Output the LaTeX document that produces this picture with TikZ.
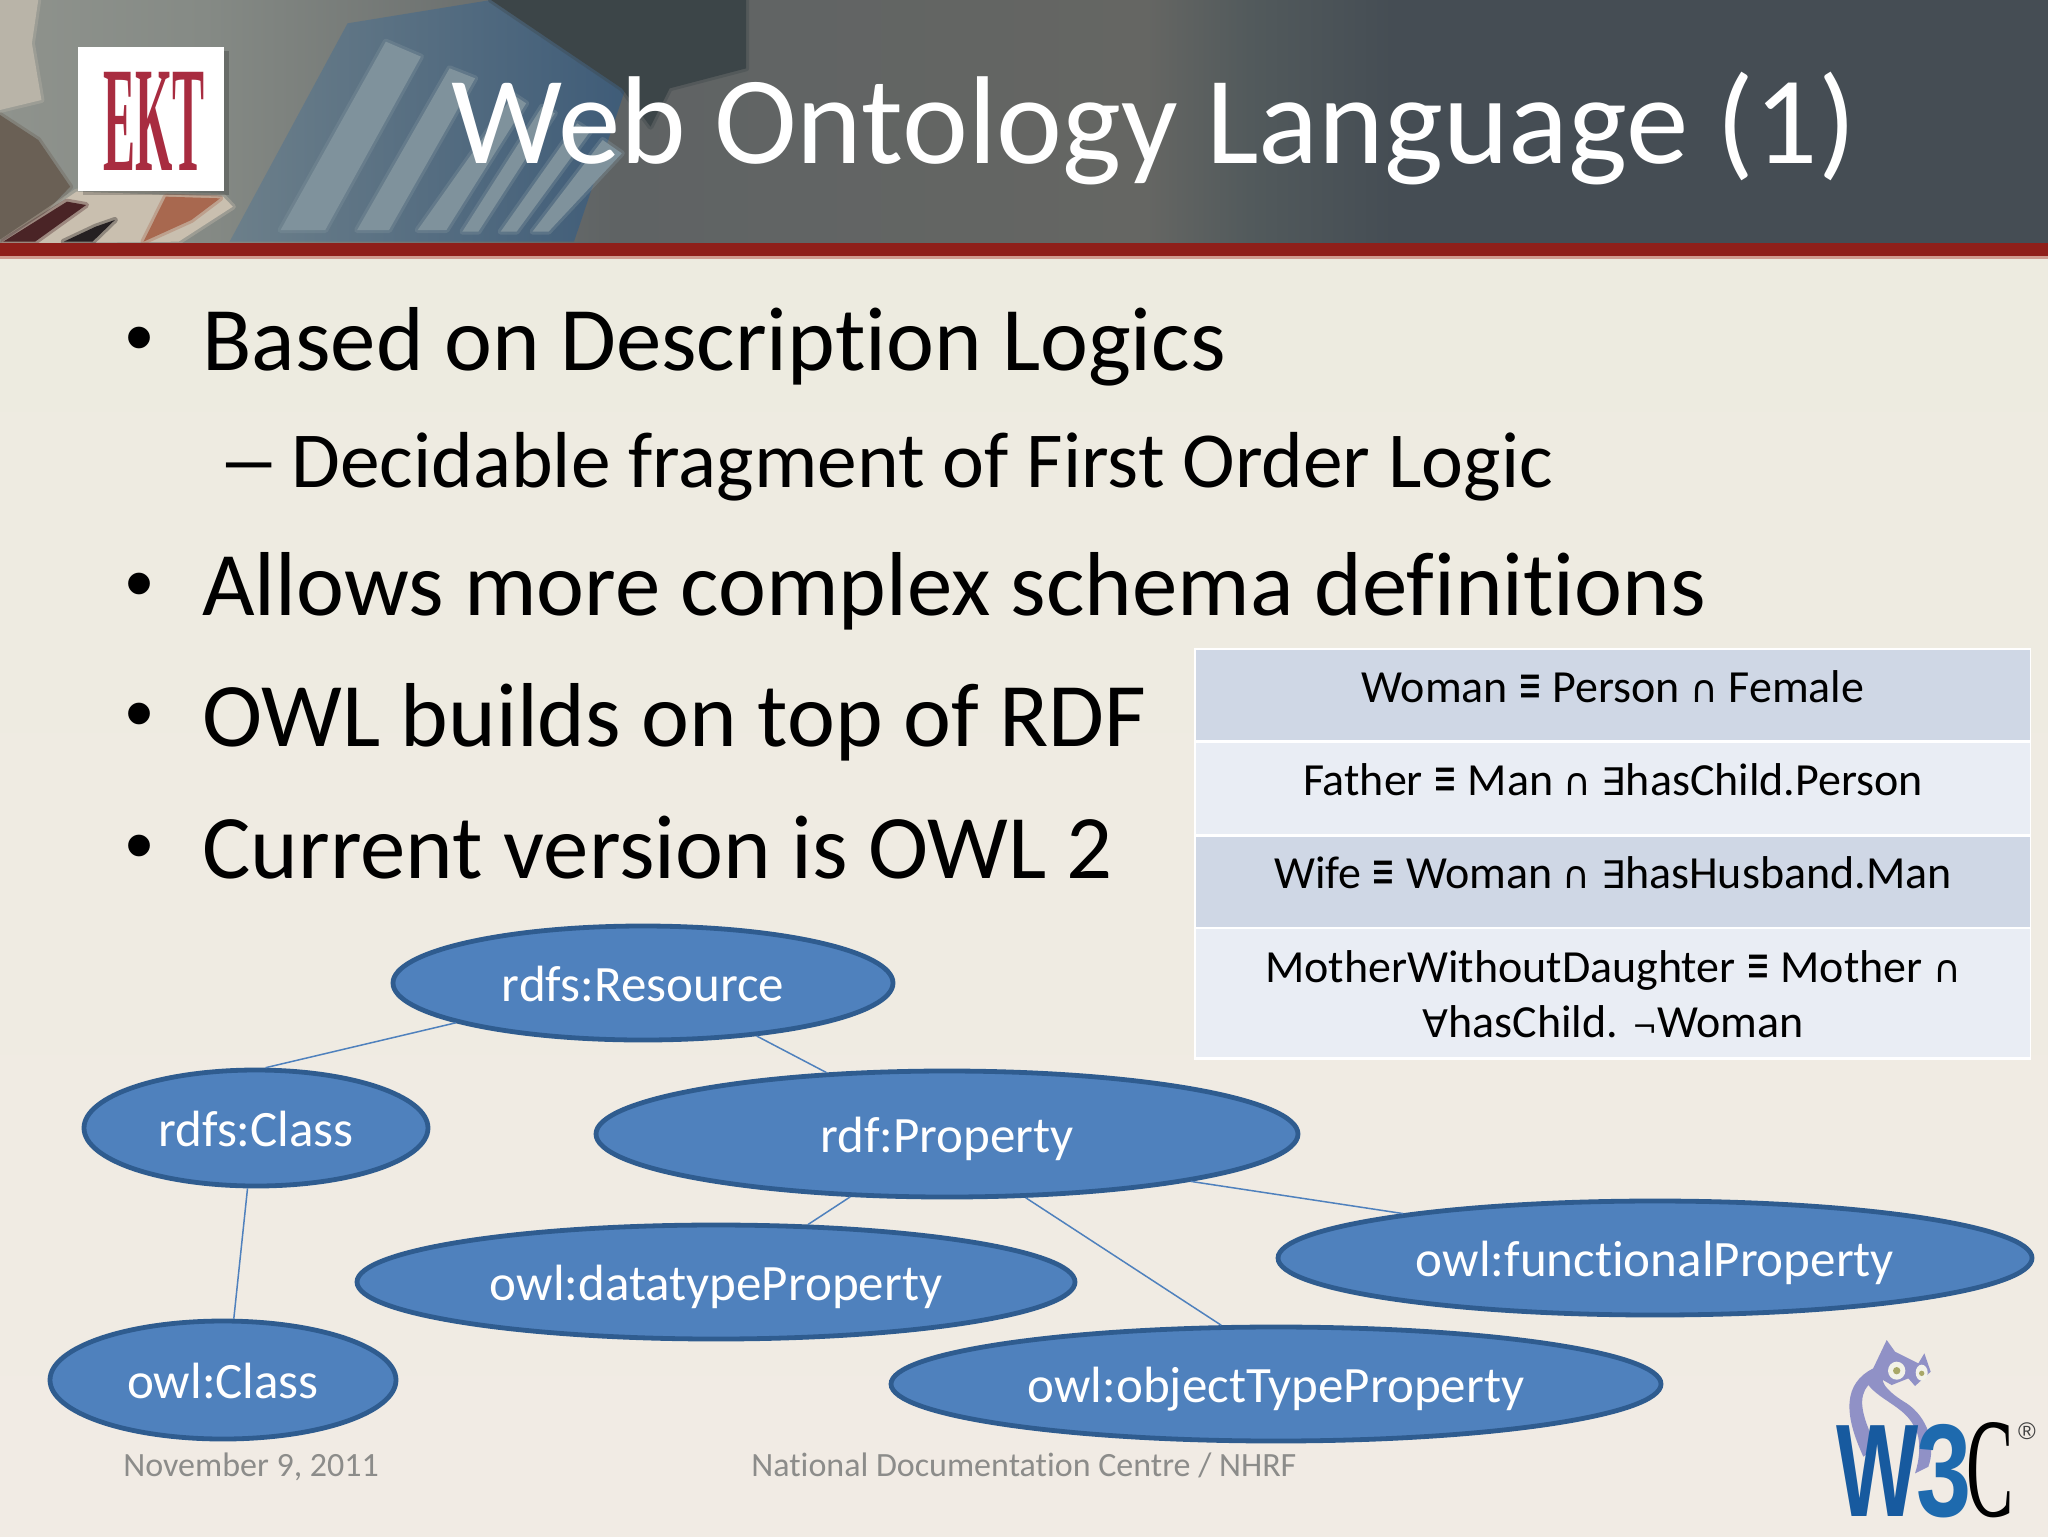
\documentclass[tikz,border=0pt]{standalone}
\usepackage{fontspec}
\usetikzlibrary{shapes.geometric}
\setmainfont[Ligatures=NoCommon]{Carlito}
\newfontfamily\symfont{DejaVu Sans}
\newfontfamily\arialfont{Liberation Sans}
\newfontfamily\timesfont{Liberation Serif}
\newcommand{\tsym}[1]{{\symfont\fontsize{15}{18}\selectfont #1}}
\newcommand{\tequiv}{{\symfont\fontsize{15}{18}\selectfont\scalebox{0.95}[1.7]{≡}}}
\newcommand{\tbig}[1]{{\symfont\fontsize{19}{18}\selectfont #1}}
\definecolor{ellfill}{HTML}{4F81BD}
\definecolor{elledge}{HTML}{2F5C8F}
\definecolor{rowdark}{HTML}{CFD7E5}
\definecolor{rowlight}{HTML}{E9EDF4}
\definecolor{footgray}{HTML}{8C8C8A}
\definecolor{pagetop}{HTML}{EDEBE0}
\definecolor{pagebot}{HTML}{F1EBE4}
\definecolor{hA}{HTML}{8F938D}
\definecolor{hB}{HTML}{858A85}
\definecolor{hC}{HTML}{5F6364}
\definecolor{hD}{HTML}{656663}
\definecolor{hE}{HTML}{525A5C}
\definecolor{hF}{HTML}{454D54}
\definecolor{creamA}{HTML}{B9B4A8}
\definecolor{brownB}{HTML}{6A6055}
\definecolor{creamC}{HTML}{C9BFAF}
\definecolor{darkD}{HTML}{4A2426}
\definecolor{darkE}{HTML}{252022}
\definecolor{rustF}{HTML}{A8684F}
\definecolor{blueLeft}{HTML}{6C7F8A}
\definecolor{blueRight}{HTML}{3F5C78}
\definecolor{slateH}{HTML}{3C4548}
\definecolor{stripeJ}{HTML}{7F929C}
\definecolor{redK}{HTML}{8F1F1A}
\definecolor{redL}{HTML}{D09C90}
\definecolor{ektred}{HTML}{A82C40}
\definecolor{owlN}{HTML}{9091C6}
\definecolor{owlP}{HTML}{A8A868}
\definecolor{wblue}{HTML}{175A9F}
\definecolor{tblue}{HTML}{1E6AAE}
\pgfdeclarehorizontalshading{hdrshade}{100bp}{
 color(0bp)=(hA);
 color(25bp)=(hA);
 color(30bp)=(hB);
 color(40bp)=(hC);
 color(53bp)=(hD);
 color(55.5bp)=(hE);
 color(59bp)=(hF);
 color(75bp)=(hF);
 color(100bp)=(hF)}
\tikzset{
 onto/.style={ellipse,draw=elledge,line width=2.4pt,fill=ellfill,text=white,inner sep=0pt,text height=18pt,text depth=0pt,font=\fontsize{25.5}{30}\selectfont},
 link/.style={draw=ellfill,line width=0.75pt},
 bodytext/.style={anchor=base west,inner sep=0pt,font=\fontsize{45.4}{54}\selectfont,text=black},
 subtext/.style={anchor=base west,inner sep=0pt,font=\fontsize{39.7}{48}\selectfont,text=black},
 bul/.style={anchor=center,inner sep=0pt,font=\arialfont\fontsize{40}{48}\selectfont,text=black},
 rowbox/.style={rectangle,anchor=north west,inner sep=0pt,draw=none},
 tabtext/.style={anchor=base,inner sep=0pt,font=\fontsize{23}{28}\selectfont,text=black},
 foot/.style={anchor=base west,inner sep=0pt,font=\fontsize{17}{20}\selectfont,text=footgray},
 soft/.style={fill=#1,draw=#1,draw opacity=.35,line width=3pt,line join=round},
}
\begin{document}
\begin{tikzpicture}[x=0.5pt,y=-0.5pt]
\useasboundingbox (0,0) rectangle (2048,1536);
% page
\shade[top color=pagetop,bottom color=pagebot] (0,250) rectangle (2048,1536);
% header
\shade[shading=hdrshade] (0,0) rectangle (2048,243);
\begin{scope}[x=0.31888pt,y=-0.16667pt]
 \clip (0,0) rectangle (3140,730);
 \path[soft=creamA] (0,0) -- (60,0) -- (50,130) -- (65,300) -- (0,330) -- cycle;
 \path[soft=brownB] (0,345) -- (60,420) -- (110,560) -- (70,640) -- (0,720) -- cycle;
 \path[soft=creamC] (120,575) -- (350,590) -- (365,620) -- (280,725) -- (0,730) -- (70,640) -- cycle;
 \path[soft=darkD] (5,725) -- (105,605) -- (135,615) -- (55,725) -- cycle;
 \path[soft=darkE] (100,725) -- (150,680) -- (180,660) -- (145,725) -- cycle;
 \path[soft=rustF] (260,590) -- (345,595) -- (300,660) -- (225,725) -- cycle;
 % building
 \shade[left color=blueLeft,right color=blueRight] (545,70) -- (770,0) -- (980,270) -- (900,725) -- (360,725) -- cycle;
 \path[soft=slateH] (770,0) -- (1170,0) -- (1170,205) -- (1050,265) -- (1020,380) -- (975,265) -- cycle;
 \foreach \a/\b/\c/\d/\e/\f/\g/\h in {605/125/660/170/510/690/440/690,705/205/745/235/610/690/560/690,805/285/825/310/700/690/655/690,850/320/870/340/750/695/725/695,905/370/925/395/810/695/785/695,945/420/975/460/860/695/835/695}
  \path[soft=stripeJ] (\a,\b) -- (\c,\d) -- (\e,\f) -- (\g,\h) -- cycle;
\end{scope}
\fill[redK] (0,243) rectangle (2048,256);
\fill[redL] (0,256) rectangle (2048,259);
% logo
\fill[black,opacity=.2] (83,51) rectangle (229,195);
\node[rectangle,fill=white,minimum width=73pt,minimum height=72pt,inner sep=0pt,anchor=north west] (logo) at (78,47) {};
\node[anchor=base,inner sep=0pt,text=ektred] (ekt) at (154,170) {\timesfont\bfseries\fontsize{75}{80}\selectfont\scalebox{0.32}[1]{EKT}};
% title
\node[anchor=base west,inner sep=0pt,text=white,font=\fontsize{62.5}{70}\selectfont] (title) at (451,163.5) {Web Ontology Language (1)};
% bullets
\node[bul] (b1) at (140,346) {•};
\node[bodytext] (t1) at (202,370) {Based on Description Logics};
\node[subtext] (t2) at (217,487) {\scalebox{1.6}[1]{–}};
\node[subtext] (t2b) at (291,487) {Decidable fragment of First Order Logic};
\node[bul] (b3) at (140,592) {•};
\node[bodytext] (t3) at (202,615) {Allows more complex schema definitions};
\node[bul] (b4) at (140,722) {•};
\node[bodytext] (t4) at (202,746) {OWL builds on top of RDF};
\node[bul] (b5) at (140,854) {•};
\node[bodytext] (t5) at (202,878) {Current version is OWL 2};
% table
\fill[white] (1194,648) rectangle (2031,1060);
\node[rowbox,fill=rowdark,minimum width=417pt,minimum height=45pt] (r1) at (1196,650) {};
\node[rowbox,fill=rowlight,minimum width=417pt,minimum height=45.5pt] (r2) at (1196,743) {};
\node[rowbox,fill=rowdark,minimum width=417pt,minimum height=45pt] (r3) at (1196,837) {};
\node[rowbox,fill=rowlight,minimum width=417pt,minimum height=64pt] (r4) at (1196,929) {};
\node[tabtext] (c1) at (1613,702) {Woman \tequiv{} Person \tbig{∩} Female};
\node[tabtext] (c2) at (1613,795) {Father \tequiv{} Man \tbig{∩} \tbig{∃}hasChild.Person};
\node[tabtext] (c3) at (1613,888) {Wife \tequiv{} Woman \tbig{∩} \tbig{∃}hasHusband.Man};
\node[tabtext] (c4) at (1613,982) {MotherWithoutDaughter \tequiv{} Mother \tbig{∩}};
\node[tabtext] (c5) at (1613,1037) {\tbig{∀}hasChild. \tsym{¬}Woman};
% ontology
\node[onto,minimum width=250pt,minimum height=57pt] (res) at (643,983) {rdfs:Resource};
\node[onto,minimum width=172pt,minimum height=58pt] (cls) at (256,1128) {rdfs:Class};
\node[onto,minimum width=351pt,minimum height=63pt] (prop) at (947,1134) {rdf:Property};
\node[onto,minimum width=359pt,minimum height=57pt] (dtp) at (716,1282) {owl:datatypeProperty};
\node[onto,minimum width=377pt,minimum height=57pt] (fun) at (1655,1258) {owl:functionalProperty};
\node[onto,minimum width=385pt,minimum height=57pt] (otp) at (1276,1384) {owl:objectTypeProperty};
\node[onto,minimum width=173pt,minimum height=59pt] (ocl) at (223,1380) {owl:Class};
\draw[link] (res.192.7) -- (cls.81);
\draw[link] (res.-25.6) -- (prop.153);
\draw[link] (cls.262) -- (ocl.80.5);
\draw[link] (prop.213.9) -- (dtp.32);
\draw[link] (prop.-39.5) -- (otp.133);
\draw[link] (prop.-11) -- (fun.170.4);
% footer
\node[foot] (f1) at (123,1476) {November 9, 2011};
\node[foot] (f2) at (751,1476) {National Documentation Centre / NHRF};
% W3C logo
\begin{scope}[shift={(1780,1300)},x=0.16667pt,y=-0.16667pt]
 \fill[owlN] (320,120) -- (345,155) -- (415,190) -- (433,160) -- (452,215) -- (405,258) -- (385,235) -- (335,255) -- (300,235) -- (270,225) -- cycle;
 \fill[owlN] (280,205) .. controls (190,250) and (190,340) .. (250,470) -- (290,440) .. controls (240,340) and (235,290) .. (265,255) .. controls (300,300) and (370,320) .. (400,375) .. controls (430,420) and (415,490) .. (405,520) -- (445,500) .. controls (470,430) and (440,350) .. (380,310) .. controls (330,280) and (300,250) .. (310,230) -- cycle;
 \fill[white!85!owlP] (350,212) ellipse [x radius=26,y radius=27];
 \fill[white!85!owlP] (425,218) ellipse [x radius=18,y radius=24];
 \fill[owlP] (350,212) circle [radius=11];
 \fill[owlP] (425,220) circle [radius=8];
\end{scope}
\node[anchor=base west,inner sep=0pt,text=wblue] (w3) at (1836,1516) {\arialfont\bfseries\fontsize{66}{70}\selectfont\scalebox{0.66}[1]{W}};
\node[anchor=base west,inner sep=0pt,text=tblue] (three) at (1916,1516) {\arialfont\bfseries\fontsize{66}{70}\selectfont\scalebox{0.75}[1]{3}};
\node[anchor=base west,inner sep=0pt,text=black] (cee) at (1966,1516) {\timesfont\fontsize{71}{75}\selectfont\scalebox{0.5}[1]{C}};
\node[anchor=center,inner sep=0pt,text=black!75] (reg) at (2027,1431) {\arialfont\fontsize{12}{14}\selectfont ®};
\end{tikzpicture}
\end{document}
